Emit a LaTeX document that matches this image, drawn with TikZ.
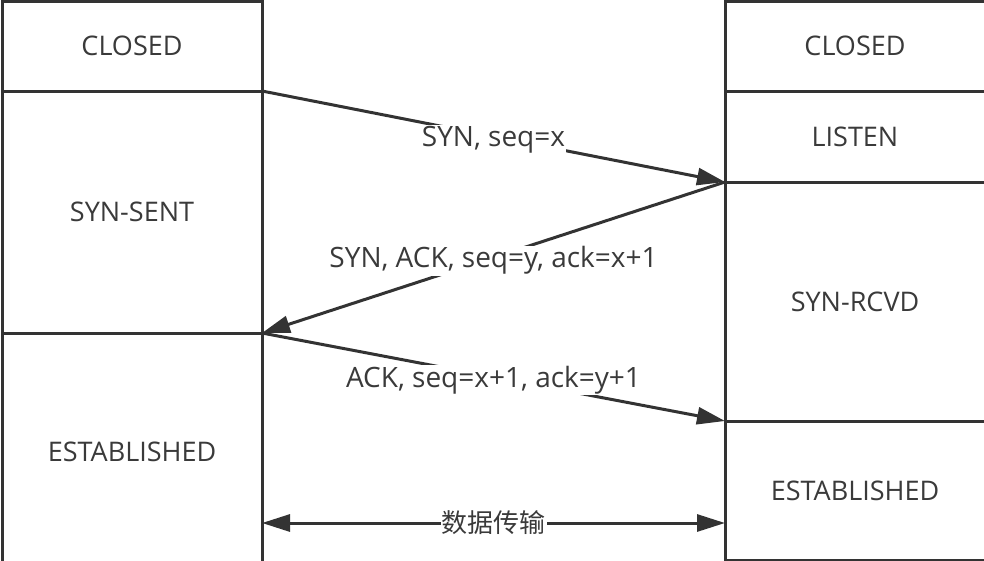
\documentclass[tikz,border=0pt]{standalone}
\usepackage{fontspec}
\setmainfont{Open Sans}
\newfontfamily\cjk{Noto Sans CJK SC}
\usetikzlibrary{arrows.meta}
\definecolor{linec}{HTML}{333333}
\definecolor{textc}{HTML}{3a3a3a}
\tikzset{
  state/.style={draw=linec, line width=3pt, fill=white, outer sep=0pt, inner sep=0pt,
    minimum width=260pt, text=textc, font=\fontsize{27}{31}\selectfont},
  msg/.style={draw=linec, line width=3pt, -{Triangle[length=28pt,width=17pt]}},
  lbl/.style={fill=white, text=textc, inner sep=1pt, yshift=-3pt, font=\fontsize{28}{32}\selectfont}
}
\begin{document}
\begin{tikzpicture}[x=1pt,y=-1pt]
\useasboundingbox (0,0) rectangle (984,560);
\begin{scope}
\clip (0,0) rectangle (984,560);
% left column
\node[state, minimum height=90pt] (lclosed) at (132,46) {CLOSED};
\node[state, minimum height=242pt] (lsent) at (132,212) {SYN-SENT};
\node[state, minimum height=238pt] (lest) at (132,452) {ESTABLISHED};
% right column
\node[state, minimum height=90pt] (rclosed) at (855,46) {CLOSED};
\node[state, minimum height=91pt] (rlisten) at (855,136.5) {LISTEN};
\node[state, minimum height=239pt] (rrcvd) at (855,301.5) {SYN-RCVD};
\node[state, minimum height=139pt] (rest) at (855,490.5) {ESTABLISHED};
\end{scope}
\draw[msg] (lclosed.south east) -- node[lbl]{SYN, seq=x} (rlisten.south west);
\draw[msg] (rlisten.south west) -- node[lbl]{SYN, ACK, seq=y, ack=x+1} (lsent.south east);
\draw[msg] (lest.north east) -- node[lbl]{ACK, seq=x+1, ack=y+1} (rrcvd.south west);
\coordinate (dl) at (lest.east |- 0,523);
\coordinate (dr) at (rest.west |- 0,523);
\draw[msg, {Triangle[length=28pt,width=17pt]}-{Triangle[length=28pt,width=17pt]}] (dl) -- node[lbl, yshift=3pt, font=\fontsize{26}{30}\selectfont]{\cjk 数据传输} (dr);
\end{tikzpicture}
\end{document}
